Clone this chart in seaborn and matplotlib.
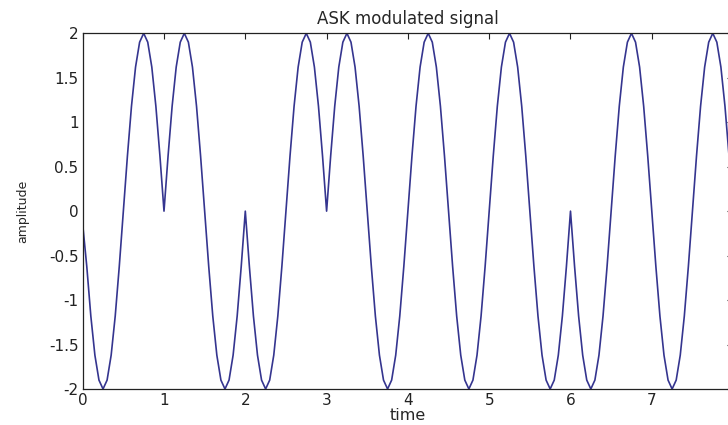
import seaborn as sns
import matplotlib.pyplot as plt
import pandas as pd
import numpy as np

amp = [
    -0.15, -0.62, -1.18, -1.62, -1.9, -2, -1.9, -1.62, -1.18, -0.62, 0, 0.62, 1.18, 1.62, 1.9, 2, 1.9, 1.62, 1.18, 0.62,
    0, 0.62, 1.18, 1.62, 1.9, 2, 1.9, 1.62, 1.18, 0.62, 0, -0.62, -1.18, -1.62, -1.9, -2, -1.9, -1.62, -1.18, -0.62,
    0, -0.62, -1.18, -1.62, -1.9, -2, -1.9, -1.62, -1.18, -0.62, 0, 0.62, 1.18, 1.62, 1.9, 2, 1.9, 1.62, 1.18, 0.62,
    0, 0.62, 1.18, 1.62, 1.9, 2, 1.9, 1.62, 1.18, 0.62, 0, -0.62, -1.18, -1.62, -1.9, -2, -1.9, -1.62, -1.18, -0.62,
    0, 0.62, 1.18, 1.62, 1.9, 2, 1.9, 1.62, 1.18, 0.62, 0, -0.62, -1.18, -1.62, -1.9, -2, -1.9, -1.62, -1.18, -0.62,
    0, 0.62, 1.18, 1.62, 1.9, 2, 1.9, 1.62, 1.18, 0.62, 0, -0.62, -1.18, -1.62, -1.9, -2, -1.9, -1.62, -1.18, -0.62,
    0, -0.62, -1.18, -1.62, -1.9, -2, -1.9, -1.62, -1.18, -0.62, 0, 0.62, 1.18, 1.62, 1.9, 2, 1.9, 1.62, 1.18, 0.62,
    0, -0.62, -1.18, -1.62, -1.9, -2, -1.9, -1.62, -1.18, -0.62, 0, 0.62, 1.18, 1.62, 1.9, 2, 1.9, 1.62, 1.18, 0.62,
    0,
]
time = np.arange(len(amp)) * 0.05
# the 8 tick sits past the cropped right edge, so no label for it
xticks = [0, 1, 2, 3, 4, 5, 6, 7]
yticks = [-2, -1.5, -1, -0.5, 0, 0.5, 1, 1.5, 2]
ytick_labels = ['-2', '-1.5', '-1', '-0.5', '0', '0.5', '1', '1.5', '2']

sns.set_style('white')
plt.rcParams['font.family'] = ['DejaVu Sans']

df = pd.DataFrame({'time': time, 'amplitude': amp})

fig = plt.figure(figsize=(7.28, 4.25), dpi=100)
ax = fig.add_axes([0.1136, 0.0847, 0.8934, 0.837])
sns.lineplot(data=df, x='time', y='amplitude', ax=ax, color='#35358f', linewidth=1.2)

ax.set_xlim(0, 8)
ax.set_ylim(-2, 2)
ax.set_xticks(xticks)
ax.set_xticklabels([str(v) for v in xticks])
ax.set_yticks(yticks)
ax.set_yticklabels(ytick_labels)
ax.tick_params(direction='in', length=4, width=0.8, top=True, right=True,
               labelsize=11, pad=3, colors='#222222')
for s in ax.spines.values():
    s.set_color('#222222')
    s.set_linewidth(0.9)
    s.set_visible(True)

ax.set_title('ASK modulated signal', fontsize=12, pad=7)
ax.set_xlabel('time', fontsize=11.5, labelpad=0)
ax.set_ylabel('amplitude', fontsize=9, labelpad=14)

plt.savefig('out.png', dpi=100)
